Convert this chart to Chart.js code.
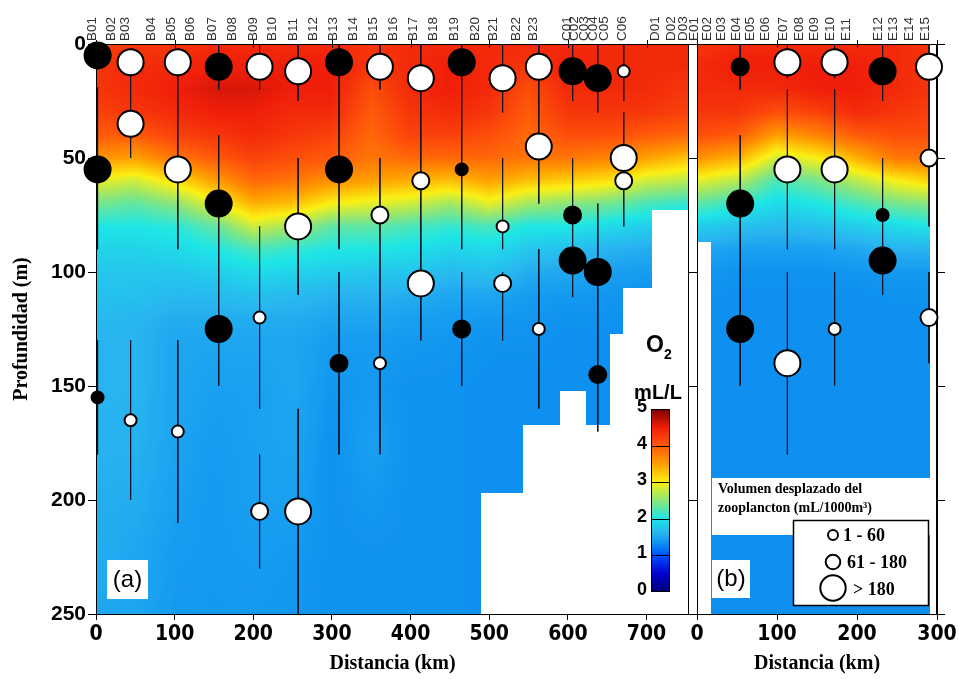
<!DOCTYPE html>
<html>
<head>
<meta charset="utf-8">
<script src="https://cdn.jsdelivr.net/npm/chart.js@4.4.0/dist/chart.umd.min.js"></script>
<style>
    body { margin: 0; background: #fff; }
    #wrap { position: relative; width: 959px; height: 679px; }
    canvas { position: absolute; left: 0; top: 0; }
</style>
</head>
<body>
<div id="wrap">
    <canvas id="panelA" width="959" height="679"></canvas>
    <canvas id="panelB" width="959" height="679"></canvas>
</div>
<script>
// Depths of the O2 grid rows (m)
const profMalla = [0, 10, 20, 30, 40, 50, 60, 70, 80, 90, 100, 110, 120, 130, 150, 175, 200, 225, 250];

// Transect (a): grid columns (km) and O2 (mL/L), one row per column
const distMallaA = [0, 50, 100, 150, 200, 250, 300, 350, 400, 450, 500, 550, 600, 650, 700, 750];
const o2A = [
    [4.2, 4.3, 4.3, 4.2, 4.0, 3.6, 2.9, 2.4, 2.0, 1.85, 1.75, 1.7, 1.65, 1.6, 1.6, 1.6, 1.55, 1.55, 1.5],
    [4.3, 4.4, 4.4, 4.3, 4.0, 3.5, 2.8, 2.3, 2.0, 1.85, 1.75, 1.7, 1.62, 1.6, 1.6, 1.58, 1.55, 1.5, 1.5],
    [4.3, 4.4, 4.5, 4.4, 4.2, 3.8, 3.1, 2.5, 2.05, 1.9, 1.75, 1.65, 1.55, 1.5, 1.5, 1.48, 1.45, 1.42, 1.4],
    [4.4, 4.5, 4.6, 4.5, 4.3, 4.0, 3.5, 2.9, 2.3, 2.0, 1.8, 1.65, 1.55, 1.5, 1.45, 1.42, 1.4, 1.4, 1.4],
    [4.4, 4.5, 4.6, 4.5, 4.4, 4.2, 3.9, 3.4, 2.8, 2.2, 1.9, 1.7, 1.55, 1.5, 1.45, 1.45, 1.45, 1.42, 1.4],
    [4.4, 4.5, 4.5, 4.4, 4.3, 4.1, 3.8, 3.3, 2.6, 2.1, 1.85, 1.65, 1.55, 1.5, 1.5, 1.48, 1.45, 1.4, 1.38],
    [4.4, 4.5, 4.5, 4.4, 4.2, 4.0, 3.6, 3.0, 2.3, 2.0, 1.8, 1.6, 1.5, 1.42, 1.38, 1.35, 1.35, 1.35, 1.35],
    [4.3, 4.3, 4.1, 4.0, 3.9, 3.8, 3.5, 2.9, 2.3, 2.0, 1.75, 1.6, 1.5, 1.42, 1.4, 1.45, 1.4, 1.35, 1.35],
    [4.4, 4.4, 4.4, 4.3, 4.2, 3.9, 3.4, 2.8, 2.2, 1.95, 1.75, 1.55, 1.45, 1.4, 1.35, 1.35, 1.35, 1.35, 1.35],
    [4.4, 4.5, 4.5, 4.4, 4.2, 3.9, 3.3, 2.6, 2.1, 1.85, 1.65, 1.5, 1.42, 1.38, 1.35, 1.35, 1.35, 1.35, 1.35],
    [4.4, 4.4, 4.4, 4.3, 4.1, 3.9, 3.5, 2.9, 2.2, 1.9, 1.7, 1.5, 1.4, 1.35, 1.33, 1.33, 1.33, 1.33, 1.33],
    [4.4, 4.3, 4.1, 4.0, 3.9, 3.8, 3.3, 2.6, 2.0, 1.75, 1.55, 1.42, 1.38, 1.35, 1.33, 1.33, 1.33, 1.33, 1.33],
    [4.4, 4.5, 4.4, 4.3, 4.1, 3.8, 3.2, 2.5, 2.0, 1.7, 1.5, 1.4, 1.35, 1.33, 1.33, 1.33, 1.33, 1.33, 1.33],
    [4.4, 4.4, 4.4, 4.3, 4.1, 3.7, 3.1, 2.4, 1.9, 1.6, 1.45, 1.38, 1.35, 1.33, 1.33, 1.33, 1.33, 1.33, 1.33],
    [4.4, 4.4, 4.4, 4.3, 4.0, 3.5, 2.8, 2.2, 1.8, 1.55, 1.42, 1.35, 1.33, 1.33, 1.33, 1.33, 1.33, 1.33, 1.33],
    [4.4, 4.4, 4.3, 4.2, 3.9, 3.3, 2.7, 2.1, 1.75, 1.5, 1.4, 1.35, 1.33, 1.33, 1.33, 1.33, 1.33, 1.33, 1.33]
];
// bottom of the gridded data in (a): from km -> depth (m)
const fondoA_km = [0, 490, 543, 590, 623, 653, 670, 707];
const fondoA_prof = [250, 197, 167, 152, 167, 127, 107, 73];

// Transect (b)
const distMallaB = [0, 50, 100, 150, 200, 250, 300];
const o2B = [
    [4.3, 4.4, 4.4, 4.3, 4.1, 3.6, 2.9, 2.3, 1.8, 1.5, 1.38, 1.35, 1.33, 1.33, 1.33, 1.33, 1.33, 1.33, 1.33],
    [4.4, 4.5, 4.4, 4.3, 4.0, 3.4, 2.7, 2.1, 1.7, 1.45, 1.36, 1.33, 1.33, 1.33, 1.33, 1.33, 1.33, 1.33, 1.33],
    [4.4, 4.5, 4.4, 4.1, 3.5, 2.8, 2.2, 1.9, 1.65, 1.45, 1.36, 1.33, 1.33, 1.33, 1.33, 1.33, 1.33, 1.33, 1.33],
    [4.4, 4.5, 4.5, 4.2, 3.7, 3.0, 2.4, 2.0, 1.7, 1.45, 1.36, 1.33, 1.33, 1.33, 1.33, 1.33, 1.33, 1.33, 1.33],
    [4.4, 4.5, 4.5, 4.4, 4.0, 3.4, 2.7, 2.2, 1.8, 1.5, 1.38, 1.33, 1.33, 1.33, 1.33, 1.33, 1.33, 1.33, 1.33],
    [4.4, 4.4, 4.4, 4.3, 4.1, 3.8, 3.0, 2.4, 1.9, 1.6, 1.4, 1.35, 1.33, 1.33, 1.33, 1.33, 1.33, 1.33, 1.33],
    [4.3, 4.3, 4.3, 4.2, 4.1, 3.8, 3.2, 2.5, 2.0, 1.6, 1.4, 1.35, 1.33, 1.33, 1.33, 1.33, 1.33, 1.33, 1.33]
];
const fondoB_km = [0, 17, 291];
const fondoB_prof = [87, 250, 0];

// Station names on the top axis
const estacionesA = ['B01', 'B02', 'B03', 'B04', 'B05', 'B06', 'B07', 'B08', 'B09', 'B10', 'B11', 'B12',
    'B13', 'B14', 'B15', 'B16', 'B17', 'B18', 'B19', 'B20', 'B21', 'B22', 'B23',
    'C01', 'C02', 'C03', 'C04', 'C05', 'C06', 'D01', 'D02', 'D03'];
const estacionesA_km = [1, 25, 42, 76, 101, 125, 153, 178, 205, 230, 256, 281, 307, 332, 358, 383, 409, 434,
    461, 487, 511, 540, 561, 604, 614, 626, 638, 652, 675, 716, 737, 752];
const estacionesB = ['E01', 'E02', 'E03', 'E04', 'E05', 'E06', 'E07', 'E08', 'E09', 'E10', 'E11', 'E12', 'E13', 'E14', 'E15'];
const estacionesB_km = [2, 18, 36, 54, 72, 90, 113, 133, 152, 172, 192, 232, 251, 270, 290];

// Zooplankton samples: km, mid depth of stratum (m), volume class (1: 1-60, 2: 61-180, 3: >180), night haul
const muestrasA_km = [2, 2, 2, 44, 44, 44, 104, 104, 104, 156, 156, 156, 208, 208, 208, 257, 257, 257,
    309, 309, 309, 361, 361, 361, 413, 413, 413, 465, 465, 465, 517, 517, 517, 563, 563, 563,
    606, 606, 606, 638, 638, 638, 671, 671, 671];
const muestrasA_prof = [5, 55, 155, 8, 35, 165, 8, 55, 170, 10, 70, 125, 10, 120, 205, 12, 80, 205,
    8, 55, 140, 10, 75, 140, 15, 60, 105, 8, 55, 125, 15, 80, 105, 10, 45, 125,
    12, 75, 95, 15, 100, 145, 12, 50, 60];
const muestrasA_clase = [3, 3, 1, 3, 3, 1, 3, 3, 1, 3, 3, 3, 3, 1, 2, 3, 3, 3,
    3, 3, 2, 3, 2, 1, 3, 2, 3, 3, 1, 2, 3, 1, 2, 3, 3, 1,
    3, 2, 3, 3, 3, 2, 1, 3, 2];
const muestrasA_noche = [1, 1, 1, 0, 0, 0, 0, 0, 0, 1, 1, 1, 0, 0, 0, 0, 0, 0,
    1, 1, 1, 0, 0, 0, 0, 0, 0, 1, 1, 1, 0, 0, 0, 0, 0, 0,
    1, 1, 1, 1, 1, 1, 0, 0, 0];

const muestrasB_km = [54, 54, 54, 113, 113, 113, 172, 172, 172, 232, 232, 232, 290, 290, 290];
const muestrasB_prof = [10, 70, 125, 8, 55, 140, 8, 55, 125, 12, 75, 95, 10, 50, 120];
const muestrasB_clase = [2, 3, 3, 3, 3, 3, 3, 3, 1, 3, 1, 3, 3, 2, 2];
const muestrasB_noche = [1, 1, 1, 0, 0, 0, 0, 0, 0, 1, 1, 1, 0, 0, 0];

// Net strata (vertical lines): km, top and bottom depth (m)
const estratosA_km = [2, 2, 44, 44, 104, 104, 156, 156, 208, 208, 208, 257, 257, 257, 309, 309, 361, 361,
    413, 465, 465, 517, 517, 517, 563, 563, 606, 606, 638, 638, 671, 671];
const estratosA_ini = [19, 130, 14, 130, 12, 130, 0, 40, 0, 80, 180, 0, 50, 160, 0, 100, 0, 50,
    0, 0, 100, 0, 50, 100, 0, 90, 0, 50, 0, 70, 0, 30];
const estratosA_fin = [90, 180, 50, 200, 90, 210, 20, 150, 20, 160, 230, 25, 110, 250, 90, 180, 20, 180,
    130, 90, 150, 30, 90, 130, 70, 160, 25, 111, 30, 170, 25, 80];

const estratosB_km = [54, 54, 113, 113, 113, 172, 172, 172, 232, 232, 290, 290, 290];
const estratosB_ini = [0, 40, 0, 20, 100, 0, 20, 100, 0, 50, 0, 20, 100];
const estratosB_fin = [20, 150, 15, 90, 180, 15, 90, 150, 25, 110, 20, 80, 140];

const ticksDistA = [0, 100, 200, 300, 400, 500, 600, 700];
const ticksO2 = [0, 1, 2, 3, 4, 5];

// colour scale for O2
const escalaVal = [0, 0.5, 1.0, 1.3, 1.6, 2.0, 2.5, 3.0, 3.5, 4.0, 4.5, 5.0];
const escalaCol = ['#00007a', '#0000cc', '#0050ff', '#0a8cf0', '#28b4f0', '#1ee6e6', '#8ce678',
    '#faf014', '#ffa000', '#ff5a0a', '#f01e0a', '#780000'];
const radioClase = [0, 6, 8.5, 13];

const escalaRGB = escalaCol.map(h => [parseInt(h.slice(1, 3), 16), parseInt(h.slice(3, 5), 16), parseInt(h.slice(5, 7), 16)]);

function colorO2(v) {
    if (v <= escalaVal[0]) return escalaRGB[0];
    for (let i = 0; i < escalaVal.length - 1; i++) {
        if (v <= escalaVal[i + 1]) {
            const t = (v - escalaVal[i]) / (escalaVal[i + 1] - escalaVal[i]);
            const a = escalaRGB[i], b = escalaRGB[i + 1];
            return [a[0] + (b[0] - a[0]) * t, a[1] + (b[1] - a[1]) * t, a[2] + (b[2] - a[2]) * t];
        }
    }
    return escalaRGB[escalaRGB.length - 1];
}

function buscar(arr, v) {
    if (v <= arr[0]) return [0, 0];
    if (v >= arr[arr.length - 1]) return [arr.length - 2, 1];
    let i = 0;
    while (arr[i + 1] < v) i++;
    return [i, (v - arr[i]) / (arr[i + 1] - arr[i])];
}

function fondo(km, kmArr, profArr) {
    let p = profArr[0];
    for (let i = 0; i < kmArr.length; i++) if (km >= kmArr[i]) p = profArr[i];
    return p;
}

// Contoured O2 field drawn inside the chart area
function pluginCampo(dist, o2, fondoKm, fondoProf) {
    return {
        id: 'campo',
        beforeDatasetsDraw(chart) {
            const { ctx, chartArea: a } = chart;
            const sx = chart.scales.x, sy = chart.scales.y;
            const w = Math.round(a.right - a.left), h = Math.round(a.bottom - a.top);
            const off = document.createElement('canvas');
            off.width = w; off.height = h;
            const octx = off.getContext('2d');
            const img = octx.createImageData(w, h);
            const colX = [], fondoX = [];
            for (let i = 0; i < w; i++) {
                const km = sx.getValueForPixel(a.left + i + 0.5);
                colX.push(buscar(dist, km));
                fondoX.push(fondo(km, fondoKm, fondoProf));
            }
            for (let j = 0; j < h; j++) {
                const prof = sy.getValueForPixel(a.top + j + 0.5);
                const [r, tr] = buscar(profMalla, prof);
                for (let i = 0; i < w; i++) {
                    if (prof > fondoX[i]) continue;
                    const [c, tc] = colX[i];
                    const v = (1 - tc) * ((1 - tr) * o2[c][r] + tr * o2[c][r + 1]) +
                        tc * ((1 - tr) * o2[c + 1][r] + tr * o2[c + 1][r + 1]);
                    const col = colorO2(v);
                    const k = (j * w + i) * 4;
                    img.data[k] = col[0];
                    img.data[k + 1] = col[1];
                    img.data[k + 2] = col[2];
                    img.data[k + 3] = 255;
                }
            }
            octx.putImageData(img, 0, 0);
            ctx.drawImage(off, a.left, a.top);

            // frame and the extra tick marks
            ctx.save();
            ctx.strokeStyle = '#000';
            ctx.lineWidth = 1;
            ctx.strokeRect(a.left + 0.5, a.top + 0.5, a.right - a.left - 1, a.bottom - a.top);
            ctx.beginPath();
            sx.ticks.forEach(t => {
                const px = Math.round(sx.getPixelForValue(t.value)) + 0.5;
                ctx.moveTo(px, a.top - 4);
                ctx.lineTo(px, a.top + 4);
            });
            sy.ticks.forEach(t => {
                const py = Math.round(sy.getPixelForValue(t.value)) + 0.5;
                if (chart.canvas.id === 'panelA') {
                    ctx.moveTo(a.right, py);
                    ctx.lineTo(a.right + 7, py);
                } else {
                    ctx.moveTo(a.left - 6, py);
                    ctx.lineTo(a.left, py);
                }
            });
            ctx.stroke();
            ctx.restore();
        }
    };
}

const pluginLeyendaA = {
    id: 'leyendaA',
    afterDraw(chart) {
        const ctx = chart.ctx;
        ctx.save();
        ctx.fillStyle = '#fff';
        ctx.fillRect(107, 560, 41, 39);
        ctx.fillStyle = '#000';
        ctx.font = '24px "Liberation Sans", Arial, sans-serif';
        ctx.textAlign = 'center';
        ctx.textBaseline = 'middle';
        ctx.fillText('(a)', 127.5, 580);

        // colour bar
        const x0 = 651, x1 = 670, y0 = 409, y1 = 592;
        for (let y = y0; y < y1; y++) {
            const c = colorO2(5 * (y1 - y - 0.5) / (y1 - y0));
            ctx.fillStyle = `rgb(${c[0] | 0},${c[1] | 0},${c[2] | 0})`;
            ctx.fillRect(x0, y, x1 - x0, 1);
        }
        ctx.strokeStyle = '#000';
        ctx.lineWidth = 1;
        ctx.beginPath();
        ticksO2.forEach(v => {
            if (v > 0 && v < 5) {
                const y = Math.round(y1 - v / 5 * (y1 - y0)) + 0.5;
                ctx.moveTo(x0, y);
                ctx.lineTo(x1, y);
            }
        });
        ctx.stroke();
        ctx.strokeRect(x0 + 0.5, y0 + 0.5, x1 - x0 - 1, y1 - y0 - 1);
        ctx.fillStyle = '#000';
        ctx.font = 'bold 18px "Liberation Sans", Arial, sans-serif';
        ctx.textAlign = 'right';
        ticksO2.forEach(v => {
            ctx.fillText(String(v), 647, y1 - v / 5 * (y1 - y0) - 2);
        });
        ctx.textAlign = 'center';
        ctx.font = 'bold 23px "Liberation Sans", Arial, sans-serif';
        ctx.fillText('O', 655, 346);
        ctx.font = 'bold 14px "Liberation Sans", Arial, sans-serif';
        ctx.fillText('2', 668, 355);
        ctx.font = 'bold 20px "Liberation Sans", Arial, sans-serif';
        ctx.fillText('mL/L', 658, 393);
        ctx.restore();
    }
};

const pluginLeyendaB = {
    id: 'leyendaB',
    afterDraw(chart) {
        const ctx = chart.ctx;
        ctx.save();
        ctx.fillStyle = '#fff';
        ctx.fillRect(712, 478, 218, 57);
        ctx.fillRect(712, 560, 38, 38);
        ctx.fillStyle = '#000';
        ctx.font = '24px "Liberation Sans", Arial, sans-serif';
        ctx.textAlign = 'center';
        ctx.textBaseline = 'middle';
        ctx.fillText('(b)', 731, 579);

        ctx.textAlign = 'left';
        ctx.textBaseline = 'alphabetic';
        ctx.font = 'bold 14px "Liberation Serif", "Times New Roman", serif';
        ctx.fillText('Volumen desplazado del', 718, 493);
        ctx.fillText('zooplancton (mL/1000m\u00b3)', 718, 512);

        ctx.fillStyle = '#fff';
        ctx.fillRect(793, 520, 136, 86);
        ctx.strokeStyle = '#000';
        ctx.lineWidth = 1.5;
        ctx.strokeRect(793.5, 520.5, 135, 85);

        const items = [[833, 535, 5, '1 - 60', 843, 541], [833, 562, 7.3, '61 - 180', 847, 568], [833, 588, 12.7, '> 180', 853, 595]];
        ctx.font = 'bold 18px "Liberation Serif", "Times New Roman", serif';
        items.forEach(it => {
            ctx.beginPath();
            ctx.arc(it[0], it[1], it[2], 0, Math.PI * 2);
            ctx.fillStyle = '#fff';
            ctx.fill();
            ctx.lineWidth = 2;
            ctx.stroke();
            ctx.fillStyle = '#000';
            ctx.fillText(it[3], it[4], it[5]);
        });
        ctx.restore();
    }
};

function burbujas(km, prof, clase, noche, cual) {
    const pts = [];
    km.forEach((k, i) => {
        if (noche[i] === cual) pts.push({ x: k, y: prof[i], r: radioClase[clase[i]] });
    });
    return pts;
}

function segmentos(km, ini, fin) {
    const pts = [];
    km.forEach((k, i) => {
        pts.push({ x: k, y: ini[i] }, { x: k, y: fin[i] }, { x: k, y: null });
    });
    return pts;
}

function datasets(km, prof, clase, noche, eKm, eIni, eFin) {
    return [
        {
            type: 'bubble', data: burbujas(km, prof, clase, noche, 1),
            backgroundColor: '#000', borderColor: '#000', borderWidth: 2, clip: false, order: 1
        },
        {
            type: 'bubble', data: burbujas(km, prof, clase, noche, 0),
            backgroundColor: '#fff', borderColor: '#000', borderWidth: 2, clip: false, order: 1
        },
        {
            type: 'line', data: segmentos(eKm, eIni, eFin),
            borderColor: '#141428', borderWidth: 1, pointRadius: 0, spanGaps: false, order: 2
        }
    ];
}

const fuenteTicks = { family: "'Liberation Sans Narrow', 'DejaVu Sans Condensed', Arial, sans-serif", size: 21, weight: 'bold' };
const fuenteTicksY = { family: "'Liberation Sans', Arial, sans-serif", size: 21, weight: 'bold' };
const fuenteTitulo = { family: "'Liberation Serif', 'Times New Roman', serif", size: 20, weight: 'bold' };
const fuenteEst = { family: "'Liberation Sans', Arial, sans-serif", size: 13.5 };

function ejeSuperior(nombres, kms, min, max) {
    return {
        type: 'linear', position: 'top', min: min, max: max,
        afterBuildTicks: ax => { ax.ticks = kms.map(v => ({ value: v })); },
        ticks: {
            callback: (v, i) => nombres[i], autoSkip: false, minRotation: 90, maxRotation: 90,
            font: fuenteEst, color: '#333', padding: 3, labelOffset: 12
        },
        grid: { display: false, drawTicks: false },
        border: { display: false },
        afterFit: ax => { ax.height = 44; }
    };
}

new Chart(document.getElementById('panelA'), {
    type: 'bubble',
    data: { datasets: datasets(muestrasA_km, muestrasA_prof, muestrasA_clase, muestrasA_noche, estratosA_km, estratosA_ini, estratosA_fin) },
    options: {
        responsive: false, animation: false, events: [], devicePixelRatio: 1,
        layout: { padding: { left: 0, top: 0, right: 270, bottom: 0 } },
        plugins: { legend: { display: false }, tooltip: { enabled: false } },
        scales: {
            x: {
                type: 'linear', position: 'bottom', min: 0, max: 754,
                afterBuildTicks: ax => { ax.ticks = ticksDistA.map(v => ({ value: v })); },
                ticks: { font: fuenteTicks, color: '#000', padding: 2, maxRotation: 0, autoSkip: false },
                grid: { drawOnChartArea: false, tickLength: 6, color: '#000' },
                border: { display: true, color: '#000' },
                title: { display: true, text: 'Distancia (km)', font: fuenteTitulo, color: '#000', padding: { top: 0, bottom: 3 } },
                afterFit: ax => { ax.height = 65; }
            },
            xTop: ejeSuperior(estacionesA, estacionesA_km, 0, 754),
            y: {
                type: 'linear', position: 'left', min: 0, max: 250, reverse: true,
                ticks: { stepSize: 50, font: fuenteTicksY, color: '#000', padding: 2 },
                grid: { drawOnChartArea: false, tickLength: 8, color: '#000' },
                border: { display: true, color: '#000' },
                title: { display: true, text: 'Profundidad (m)', font: fuenteTitulo, color: '#000', padding: { top: 10, bottom: 0 } },
                afterFit: ax => { ax.width = 96; }
            }
        }
    },
    plugins: [pluginCampo(distMallaA, o2A, fondoA_km, fondoA_prof), pluginLeyendaA]
});

new Chart(document.getElementById('panelB'), {
    type: 'bubble',
    data: { datasets: datasets(muestrasB_km, muestrasB_prof, muestrasB_clase, muestrasB_noche, estratosB_km, estratosB_ini, estratosB_fin) },
    options: {
        responsive: false, animation: false, events: [], devicePixelRatio: 1,
        layout: { padding: { left: 697, top: 0, right: 0, bottom: 0 } },
        plugins: { legend: { display: false }, tooltip: { enabled: false } },
        scales: {
            x: {
                type: 'linear', position: 'bottom', min: 0, max: 300,
                ticks: { stepSize: 100, font: fuenteTicks, color: '#000', padding: 2, maxRotation: 0, autoSkip: false },
                grid: { drawOnChartArea: false, tickLength: 6, color: '#000' },
                border: { display: true, color: '#000' },
                title: { display: true, text: 'Distancia (km)', font: fuenteTitulo, color: '#000', padding: { top: 0, bottom: 3 } },
                afterFit: ax => { ax.height = 65; }
            },
            xTop: ejeSuperior(estacionesB, estacionesB_km, 0, 300),
            y: {
                type: 'linear', position: 'right', min: 0, max: 250, reverse: true,
                ticks: { stepSize: 50, display: false },
                grid: { drawOnChartArea: false, tickLength: 8, color: '#000' },
                border: { display: true, color: '#000' },
                afterFit: ax => { ax.width = 22; }
            }
        }
    },
    plugins: [pluginCampo(distMallaB, o2B, fondoB_km, fondoB_prof), pluginLeyendaB]
});
</script>
</body>
</html>
